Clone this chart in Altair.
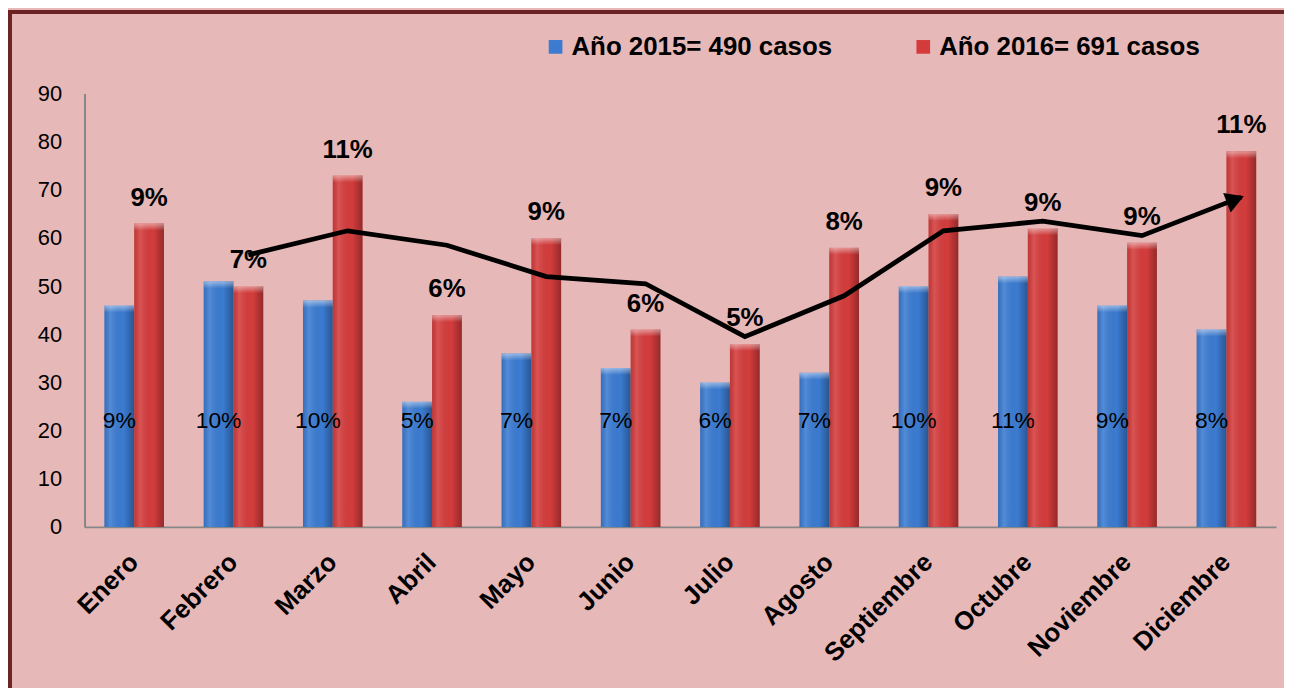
import altair as alt
import pandas as pd

months = ["Enero", "Febrero", "Marzo", "Abril", "Mayo", "Junio", "Julio",
          "Agosto", "Septiembre", "Octubre", "Noviembre", "Diciembre"]
cases_2015 = [46, 51, 47, 26, 36, 33, 30, 32, 50, 52, 46, 41]
cases_2016 = [63, 50, 73, 44, 60, 41, 38, 58, 65, 62, 59, 78]
pct_2015 = ["9%", "10%", "10%", "5%", "7%", "7%", "6%", "7%", "10%", "11%", "9%", "8%"]
pct_2016 = ["9%", "7%", "11%", "6%", "9%", "6%", "5%", "8%", "9%", "9%", "9%", "11%"]
trend_months = ["Febrero", "Marzo", "Abril", "Mayo", "Junio", "Julio",
                "Agosto", "Septiembre", "Octubre", "Noviembre", "Diciembre"]
trend_2016 = [56.5, 61.5, 58.5, 52, 50.5, 39.5, 48, 61.5, 63.5, 60.5, 68.5]
series = ["Año 2015= 490 casos", "Año 2016= 691 casos"]
y_ticks = [0, 10, 20, 30, 40, 50, 60, 70, 80, 90]
blue_label_level = 22

FONT = "Liberation Sans"
BG = "#E6B8B7"

rows = []
for m, c, p in zip(months, cases_2015, pct_2015):
    rows.append({"mes": m, "serie": series[0], "casos": c, "pct": p})
for m, c, p in zip(months, cases_2016, pct_2016):
    rows.append({"mes": m, "serie": series[1], "casos": c, "pct": p})
bars_df = pd.DataFrame(rows)
trend_df = pd.DataFrame({"mes": trend_months, "casos": trend_2016})
one = pd.DataFrame({"a": [0]})

x_axis = alt.Axis(title=None, labelAngle=-45, labelAlign="right",
                  labelBaseline="middle", labelPadding=31,
                  labelFont=FONT, labelFontSize=26, labelFontWeight="bold",
                  labelColor="black", ticks=False, tickSize=0,
                  domainColor="#878787", domainWidth=2, grid=False)
y_axis = alt.Axis(title=None, values=y_ticks, labelFont=FONT, labelFontSize=22,
                  labelColor="black", labelPadding=23, ticks=False, tickSize=0,
                  domainColor="#878787", domainWidth=2, grid=False)
y_scale = alt.Scale(domain=[0, 90], nice=False)

x_enc = alt.X("mes:N", sort=months,
              scale=alt.Scale(paddingInner=0.4, paddingOuter=0.2), axis=x_axis)
xo_enc = alt.XOffset("serie:N", scale=alt.Scale(domain=series, paddingInner=0, paddingOuter=0))
y_enc = alt.Y("casos:Q", scale=y_scale, axis=y_axis)

bars = alt.Chart(bars_df).mark_bar().encode(
    x=x_enc, xOffset=xo_enc, y=y_enc,
    color=alt.Color("serie:N", scale=alt.Scale(domain=series, range=["#3B7BD1", "#D43C3C"]),
                    legend=alt.Legend(orient="none", legendX=461, legendY=-60,
                                      direction="horizontal", title=None,
                                      symbolType="square", symbolSize=190,
                                      symbolStrokeWidth=0, symbolOpacity=1,
                                      labelFont=FONT, labelFontSize=26,
                                      labelFontWeight="bold", labelColor="black",
                                      labelLimit=0, labelOffset=3, columnPadding=78))
)

shade = alt.Chart(bars_df).mark_bar(
    color=alt.Gradient(gradient="linear", x1=0, x2=1, y1=0, y2=0, stops=[
        alt.GradientStop(offset=0, color="rgba(0,0,0,0.10)"),
        alt.GradientStop(offset=0.2, color="rgba(255,255,255,0.12)"),
        alt.GradientStop(offset=0.65, color="rgba(0,0,0,0.0)"),
        alt.GradientStop(offset=1, color="rgba(0,0,0,0.30)"),
    ])
).encode(x=x_enc, xOffset=xo_enc, y=y_enc)

caps = alt.Chart(bars_df).mark_bar(
    y2Offset=7,
    color=alt.Gradient(gradient="linear", x1=0, x2=0, y1=0, y2=1, stops=[
        alt.GradientStop(offset=0, color="rgba(255,255,255,0.45)"),
        alt.GradientStop(offset=1, color="rgba(255,255,255,0.0)"),
    ])
).encode(x=x_enc, xOffset=xo_enc, y=y_enc, y2=alt.Y2("casos:Q"))

red_labels = alt.Chart(bars_df).transform_filter(
    alt.datum.serie == series[1]
).mark_text(font=FONT, fontSize=26, fontWeight="bold", color="black",
            baseline="alphabetic", dy=-18).encode(
    x=x_enc, xOffset=xo_enc, y=y_enc, text="pct:N")

blue_labels = alt.Chart(bars_df).transform_filter(
    alt.datum.serie == series[0]
).mark_text(font=FONT, fontSize=23, color="black", baseline="middle").encode(
    x=x_enc, xOffset=xo_enc,
    y=alt.YDatum(blue_label_level, type="quantitative", scale=y_scale, axis=y_axis),
    text="pct:N")

trend = alt.Chart(trend_df).mark_line(color="black", strokeWidth=4.8, xOffset=15).encode(
    x=x_enc, y=y_enc)

arrow = alt.Chart(trend_df).transform_filter(
    alt.datum.mes == "Diciembre"
).mark_point(shape="triangle-right", filled=True, size=440, angle=339, color="black",
             opacity=1, xOffset=9, yOffset=2.5).encode(x=x_enc, y=y_enc)

border_left = alt.Chart(one).mark_rule(color="#6B2323", strokeWidth=4).encode(
    x=alt.value(-75), y=alt.value(-82), y2=alt.value(600))
border_top = alt.Chart(one).mark_rule(color="#6B2323", strokeWidth=4).encode(
    x=alt.value(-77), x2=alt.value(1215), y=alt.value(-82))

chart = alt.layer(bars, shade, caps, trend, arrow, red_labels, blue_labels,
                  border_left, border_top).properties(
    width=1199, height=436,
    autosize=alt.AutoSizeParams(type="none"),
    padding={"left": 77, "top": 84, "right": 8, "bottom": 160},
    background=BG,
).configure_view(stroke=None)

chart.save("out.html", embed_options={"renderer": "svg", "actions": False})
